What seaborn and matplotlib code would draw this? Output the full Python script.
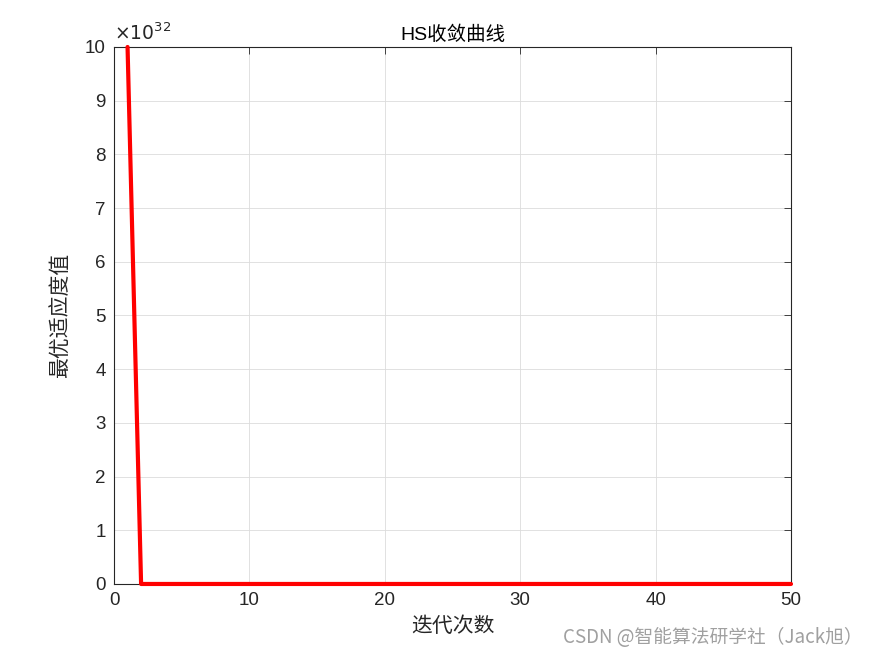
import numpy as np
import pandas as pd
import matplotlib
matplotlib.use('Agg')
import matplotlib.pyplot as plt
import seaborn as sns

# convergence data: iteration vs best fitness
iterations = list(range(1, 51))
fitness = [1.0e33] + [0.0] * 49

df = pd.DataFrame({'iter': iterations, 'fit': fitness})

sns.set_style('white')
plt.rcParams['font.family'] = ['Liberation Sans', 'Noto Sans CJK SC', 'DejaVu Sans']
plt.rcParams['axes.unicode_minus'] = False

fig = plt.figure(figsize=(8.75, 6.56), dpi=100)
ax = fig.add_axes([0.1303, 0.1098, 0.7737, 0.8186])

sns.lineplot(data=df, x='iter', y='fit', color='red', linewidth=3, ax=ax,
             clip_on=False, zorder=5)

ax.set_xlim(0, 50)
ax.set_ylim(0, 1e33)
ax.set_xticks([0, 10, 20, 30, 40, 50])
ax.set_yticks(np.arange(0, 11) * 1e32)
ax.set_yticklabels([str(i) for i in range(11)])
ax.tick_params(direction='in', length=5, width=0.6, labelsize=13.5, colors='#262626',
               top=True, right=True, labeltop=False, labelright=False, pad=6)
ax.grid(True, color='#dcdcdc', linewidth=0.6)
for s in ax.spines.values():
    s.set_color('#262626')
    s.set_linewidth(0.8)

ax.text(0.0, 1.005, r'$\times 10^{32}$', transform=ax.transAxes, fontsize=13.5,
        color='#262626', ha='left', va='bottom')

ax.set_title('HS收敛曲线', fontsize=14, color='black', pad=5,
             family=['Liberation Sans', 'Noto Sans CJK SC'])
ax.set_xlabel('迭代次数', fontsize=15, color='#262626', family=['Noto Sans CJK SC'], labelpad=4)
ax.set_ylabel('最优适应度值', fontsize=15, color='#262626', family=['Noto Sans CJK SC'], labelpad=10)

fig.text(0.986, 0.028, 'CSDN @智能算法研学社（Jack旭）', ha='right', va='center',
         fontsize=13.5, color='#a0a0a0', family=['Noto Sans CJK SC', 'DejaVu Sans'])

fig.savefig('out.png', dpi=100, facecolor='white')
